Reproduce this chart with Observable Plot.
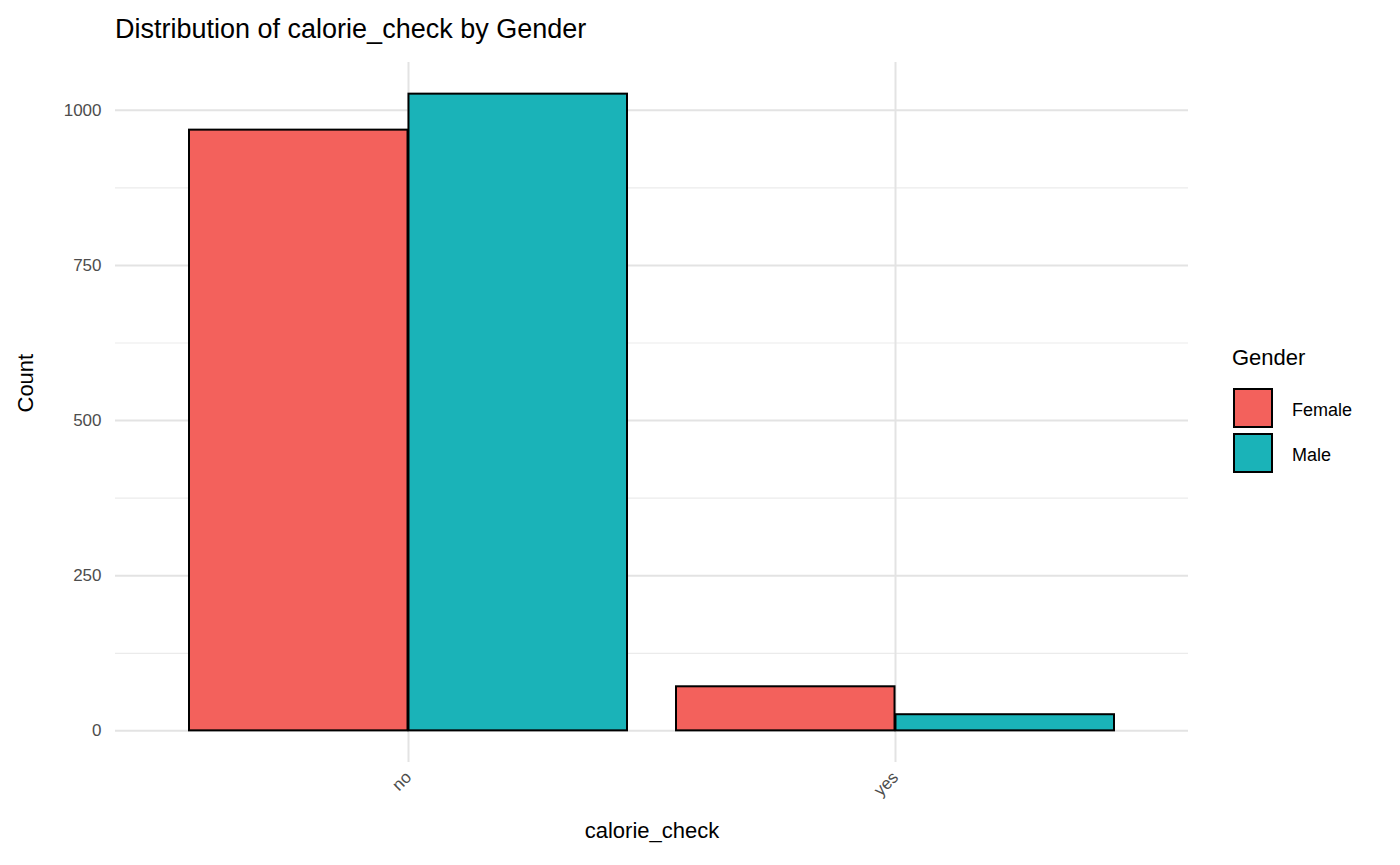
<!DOCTYPE html>
<html><head><meta charset="utf-8">
<script src="https://cdn.jsdelivr.net/npm/d3@7"></script>
<script src="https://cdn.jsdelivr.net/npm/@observablehq/plot@0.6"></script>
<style>
body{margin:0;font-family:"Liberation Sans",Arial,sans-serif;background:#fff}
#wrap{position:relative;width:1400px;height:865px}
.t{position:absolute;color:#000}
.key{position:absolute;width:40px;height:40px;border:2px solid #000;box-sizing:border-box}
</style></head><body>
<div id="wrap">
<div class="t" style="left:115px;top:14px;font-size:27px">Distribution of calorie_check by Gender</div>
<div class="t" style="left:1232px;top:345px;font-size:22px">Gender</div>
<div class="key" style="left:1233px;top:388px;background:#F3615C"></div>
<div class="key" style="left:1233px;top:433px;background:#1AB3B8"></div>
<div class="t" style="left:1292px;top:400px;font-size:18px">Female</div>
<div class="t" style="left:1292px;top:445px;font-size:18px">Male</div>
<div id="chart" style="position:absolute;left:0;top:0"></div>
</div>
<script>
const categories = ["no", "yes"];
const genders = ["Female", "Male"];
const female = [968, 71];
const male = [1026, 26];
const majorTicks = [0, 250, 500, 750, 1000];
const minorTicks = [125, 375, 625, 875];

const femaleRows = categories.map((c, i) => ({calorie_check: c, Gender: "Female", count: female[i]}));
const maleRows = categories.map((c, i) => ({calorie_check: c, Gender: "Male", count: male[i]}));

const half = 1073 / 2.2 * 0.9 / 2;

const chart = Plot.plot({
  width: 1400, height: 865,
  marginLeft: 115, marginRight: 212, marginTop: 62, marginBottom: 103,
  style: {fontFamily: "Liberation Sans, Arial, sans-serif", fontSize: "17px", background: "transparent"},
  x: {domain: categories, paddingInner: 0.1, paddingOuter: 0.15, label: null},
  y: {domain: [-51, 1077]},
  color: {domain: genders, range: ["#F3615C", "#1AB3B8"]},
  marks: [
    Plot.ruleY(minorTicks, {y: d => d, stroke: "#ebebeb", strokeWidth: 1.2}),
    Plot.ruleY(majorTicks, {y: d => d, stroke: "#e3e3e3", strokeWidth: 2}),
    Plot.gridX({stroke: "#e3e3e3", strokeWidth: 2, strokeOpacity: 1}),
    Plot.barY(femaleRows, {x: "calorie_check", y: "count", fill: "Gender", stroke: "#000", strokeWidth: 2, insetRight: half}),
    Plot.barY(maleRows, {x: "calorie_check", y: "count", fill: "Gender", stroke: "#000", strokeWidth: 2, insetLeft: half}),
    Plot.axisY(majorTicks, {tickSize: 0, tickPadding: 14, tickFormat: "d", label: null, fontSize: 17, fill: "#4d4d4d"}),
    Plot.axisX({tickSize: 0, tickRotate: -45, tickPadding: 12, label: null, fontSize: 17, fill: "#4d4d4d"}),
    Plot.text(["Count"], {frameAnchor: "left", dx: -90, rotate: -90, fontSize: 22, fill: "#000"}),
    Plot.text(["calorie_check"], {frameAnchor: "bottom", dy: 75, fontSize: 22, fill: "#000"})
  ]
});
document.getElementById("chart").append(chart);
</script>
</body></html>
